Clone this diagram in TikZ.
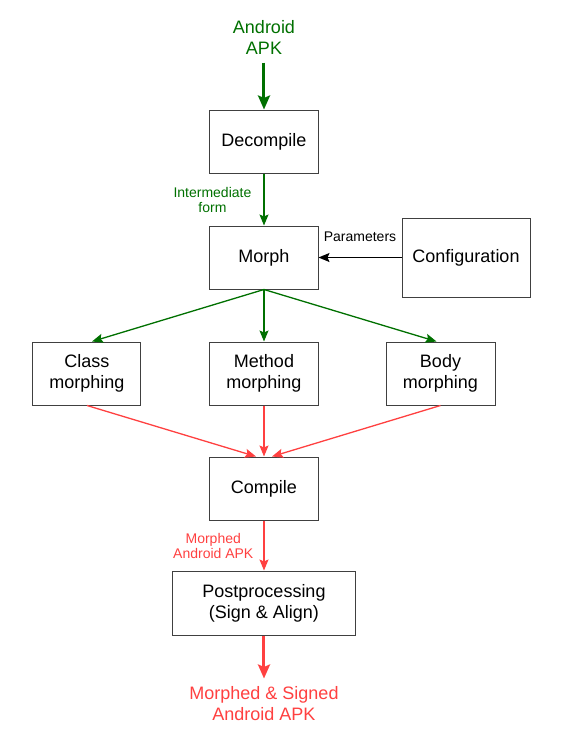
\documentclass[tikz,border=0pt]{standalone}
\usepackage{fontspec}
\setmainfont{Liberation Sans}
\usetikzlibrary{arrows.meta,positioning}
\definecolor{morphgreen}{RGB}{0,112,0}
\definecolor{morphred}{RGB}{255,64,64}
\tikzset{
	stagebox/.style={rectangle, draw=black!75, line width=1pt, minimum width=108pt,
		minimum height=63pt, align=center, font=\fontsize{18}{21}\selectfont, inner sep=2pt},
	endtext/.style={align=center, font=\fontsize{18}{21}\selectfont, inner xsep=0pt, inner ysep=8pt},
	edgelabel/.style={align=center, font=\fontsize{14}{15}\selectfont, inner sep=0pt},
	greenarr/.style={-{Stealth[length=11pt, width=9pt, inset=2pt]}, line width=1.3pt, draw=morphgreen},
	redarr/.style={-{Stealth[length=11pt, width=9pt, inset=2pt]}, line width=1.3pt, draw=morphred},
	blackarr/.style={-{Stealth[length=11pt, width=9pt, inset=2pt]}, line width=1.3pt, draw=black},
	thickgreen/.style={-{Stealth[length=14pt, width=12pt, inset=2.5pt]}, line width=3pt, draw=morphgreen},
	thickred/.style={-{Stealth[length=14pt, width=12pt, inset=2.5pt]}, line width=3pt, draw=morphred}
}
\begin{document}
\begin{tikzpicture}[x=1pt, y=1pt]
	\useasboundingbox (-264,141.5) rectangle (310,-592.5);
	\node[stagebox] (decomp) {Decompile};
	\node[stagebox, below=52pt of decomp] (morph) {Morph};
	\node[stagebox, right=83pt of morph, minimum width=128pt, minimum height=79pt] (config) {Configuration};
	\node[stagebox, below=52pt of morph] (method) {Method\\morphing};
	\node[stagebox, left=68pt of method] (class) {Class\\morphing};
	\node[stagebox, right=67pt of method, minimum width=109pt] (body) {Body\\morphing};
	\node[stagebox, below=51pt of method] (compile) {Compile};
	\node[stagebox, below=50pt of compile, minimum width=183pt, minimum height=64pt] (post) {Postprocessing\\(Sign \& Align)};
	\node[endtext, text=morphgreen, above=47pt of decomp] (apk) {Android\\APK};
	\node[endtext, text=morphred, below=43pt of post] (signed) {Morphed \& Signed\\Android APK};
	\draw[thickgreen] (apk) -- (decomp);
	\draw[greenarr] (decomp) -- node[edgelabel, text=morphgreen, left=12pt] {Intermediate\\form} (morph);
	\draw[blackarr] (config) -- node[edgelabel, above=15pt] {Parameters} (morph);
	\draw[greenarr] (morph.south) -- ([xshift=5pt]class.north);
	\draw[greenarr] (morph) -- (method);
	\draw[greenarr] (morph.south) -- ([xshift=-4pt]body.north);
	\draw[redarr] (class.south) -- ([xshift=-8pt]compile.north);
	\draw[redarr] (method) -- (compile);
	\draw[redarr] (body.south) -- ([xshift=8pt]compile.north);
	\draw[redarr] (compile) -- node[edgelabel, text=morphred, left=10pt] {Morphed\\Android APK} (post);
	\draw[thickred] (post) -- (signed);
\end{tikzpicture}
\end{document}
